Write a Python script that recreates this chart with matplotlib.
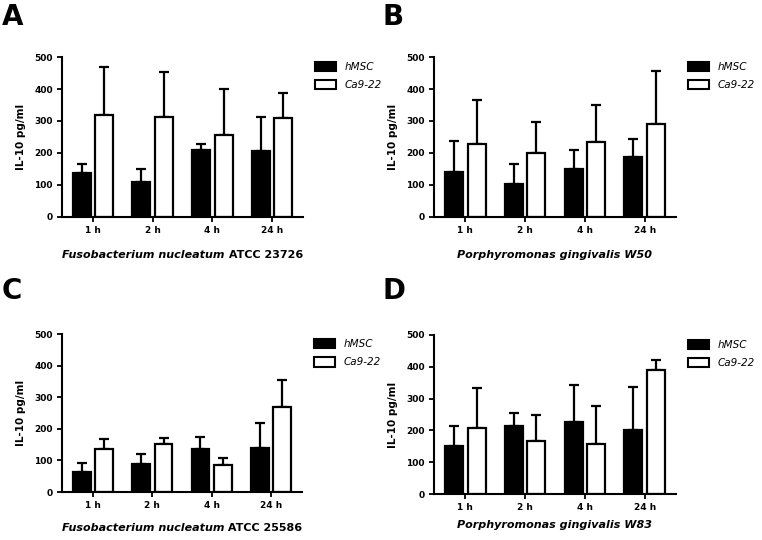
import matplotlib
matplotlib.use("Agg")
import matplotlib.pyplot as plt
from matplotlib.patches import Patch
import numpy as np

plt.rcParams["font.family"] = "DejaVu Sans"

times = ["1 h", "2 h", "4 h", "24 h"]
series = ["hMSC", "Ca9-22"]

# mean values (pg/ml) and upper SD
a_hmsc = [136, 108, 210, 205]
a_hmsc_sd = [30, 41, 17, 107]
a_ca = [318, 314, 257, 310]
a_ca_sd = [151, 139, 143, 79]

b_hmsc = [142, 104, 150, 187]
b_hmsc_sd = [95, 63, 58, 56]
b_ca = [229, 201, 234, 290]
b_ca_sd = [136, 96, 117, 166]

c_hmsc = [64, 88, 135, 138]
c_hmsc_sd = [29, 33, 40, 79]
c_ca = [135, 153, 84, 270]
c_ca_sd = [34, 19, 25, 85]

d_hmsc = [152, 215, 225, 200]
d_hmsc_sd = [62, 40, 118, 137]
d_ca = [206, 168, 157, 390]
d_ca_sd = [128, 80, 120, 32]

panels = [
    ("A", a_hmsc, a_hmsc_sd, a_ca, a_ca_sd, "Fusobacterium nucleatum", "ATCC 23726"),
    ("B", b_hmsc, b_hmsc_sd, b_ca, b_ca_sd, "Porphyromonas gingivalis W50", ""),
    ("C", c_hmsc, c_hmsc_sd, c_ca, c_ca_sd, "Fusobacterium nucleatum", "ATCC 25586"),
    ("D", d_hmsc, d_hmsc_sd, d_ca, d_ca_sd, "Porphyromonas gingivalis W83", ""),
]

# axes rectangles in pixels: left, top(y=500), right, bottom(y=0)
W, H = 762, 540
rects = [(62, 57, 303, 217), (434, 57, 676, 217),
         (62, 334, 302, 492), (434, 335, 676, 494)]
letter_pos = [(2, 3), (383, 3), (2, 277), (383, 277)]
title_y = [-0.235, -0.235, -0.228, -0.195]

fig = plt.figure(figsize=(W / 100, H / 100), dpi=100)
x = np.arange(len(times))
bw = 0.3
off = 0.19
lw = 1.6
titles = []

for (lab, hm, hm_sd, ca, ca_sd, sp_it, sp_rm), (l, t, r, b), (lx, ly), ty in zip(
        panels, rects, letter_pos, title_y):
    ax = fig.add_axes([l / W, 1 - b / H, (r - l) / W, (b - t) / H])
    ax.bar(x - off, hm, bw, color="black", edgecolor="black", linewidth=lw, zorder=2)
    ax.bar(x + off, ca, bw, color="white", edgecolor="black", linewidth=lw, zorder=2)
    ax.errorbar(x - off, hm, yerr=[np.zeros(4), hm_sd], fmt="none", ecolor="black",
                elinewidth=lw, capsize=3.5, capthick=lw, zorder=1)
    ax.errorbar(x + off, ca, yerr=[np.zeros(4), ca_sd], fmt="none", ecolor="black",
                elinewidth=lw, capsize=3.5, capthick=lw, zorder=1)
    ax.set_ylim(0, 500)
    ax.set_xlim(-0.52, 3.52)
    ax.set_yticks(range(0, 501, 100))
    ax.set_xticks(x)
    ax.set_xticklabels(times)
    for s in ["top", "right"]:
        ax.spines[s].set_visible(False)
    for s in ["left", "bottom"]:
        ax.spines[s].set_linewidth(1.5)
    ax.tick_params(width=1.3, length=3.5, labelsize=6.5, pad=3)
    for tl in ax.get_xticklabels() + ax.get_yticklabels():
        tl.set_fontweight("bold")
    ax.set_ylabel("IL-10 pg/ml", fontsize=7.5, fontweight="bold", labelpad=6)
    # x-axis title: species in italic, strain upright
    t1 = ax.text(0.0, ty, sp_it, transform=ax.transAxes, ha="left", va="center",
                 fontsize=8, fontweight="bold", fontstyle="italic")
    t2 = None
    if sp_rm:
        t2 = ax.annotate(" " + sp_rm, xy=(1, 0), xycoords=t1, va="bottom", ha="left",
                         fontsize=8, fontweight="bold")
    titles.append((ax, t1, t2, ty))
    handles = [Patch(facecolor="black", edgecolor="black", linewidth=1.5),
               Patch(facecolor="white", edgecolor="black", linewidth=1.5)]
    leg = ax.legend(handles, series, loc="upper left", bbox_to_anchor=(1.01, 1.03),
                    frameon=False, fontsize=7.5, handlelength=2.0, handleheight=1.0,
                    labelspacing=0.8, handletextpad=0.9)
    for txt in leg.get_texts():
        txt.set_fontstyle("italic")
    fig.text(lx / W, 1 - ly / H, lab, fontsize=20, fontweight="bold", va="top", ha="left")

# centre each two-part x title under its axes
fig.canvas.draw()
rend = fig.canvas.get_renderer()
for ax, t1, t2, ty in titles:
    bb = t1.get_window_extent(rend)
    x0, x1 = bb.x0, bb.x1
    if t2 is not None:
        x1 = t2.get_window_extent(rend).x1
    abb = ax.get_window_extent(rend)
    shift = (abb.x0 + abb.width / 2) - (x0 + x1) / 2
    t1.set_position(((x0 + shift - abb.x0) / abb.width, ty))

fig.savefig("out.png", dpi=100)
